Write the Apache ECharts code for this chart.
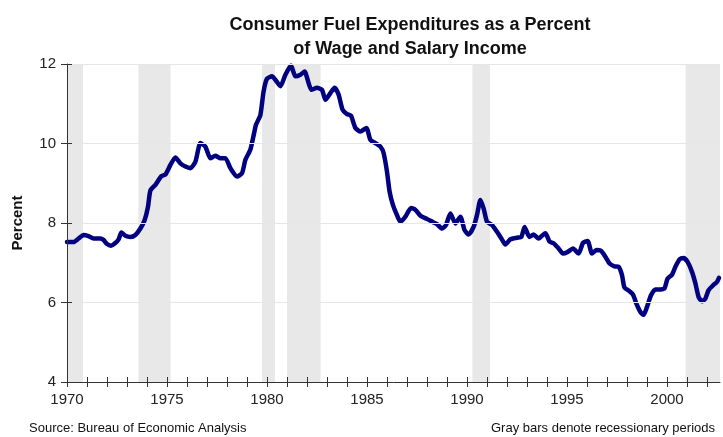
<!DOCTYPE html>
<html>
<head>
<meta charset="utf-8">
<script src="https://cdn.jsdelivr.net/npm/echarts@6/dist/echarts.min.js"></script>
<style>html,body{margin:0;padding:0;background:#fff}#c{width:723px;height:437px}</style>
</head>
<body>
<div id="c"></div>
<script>
// ---- data ----
var years = [1970.0,1970.33,1970.58,1970.83,1971.08,1971.33,1971.67,1971.83,1972.0,1972.2,1972.4,1972.58,1972.72,1972.92,1973.17,1973.42,1973.67,1973.88,1974.05,1974.17,1974.42,1974.72,1974.92,1975.17,1975.42,1975.67,1975.92,1976.17,1976.42,1976.67,1976.92,1977.17,1977.42,1977.67,1977.92,1978.17,1978.5,1978.75,1978.92,1979.17,1979.33,1979.45,1979.67,1979.83,1980.0,1980.25,1980.45,1980.67,1980.92,1981.2,1981.42,1981.67,1981.88,1982.08,1982.22,1982.5,1982.75,1982.92,1983.17,1983.38,1983.58,1983.78,1984.0,1984.2,1984.42,1984.67,1984.97,1985.17,1985.42,1985.67,1985.83,1986.0,1986.13,1986.3,1986.5,1986.67,1986.92,1987.2,1987.42,1987.67,1988.0,1988.3,1988.5,1988.75,1988.95,1989.17,1989.42,1989.67,1989.88,1990.08,1990.33,1990.5,1990.67,1990.83,1991.0,1991.25,1991.5,1991.72,1991.92,1992.17,1992.5,1992.72,1992.88,1993.12,1993.33,1993.58,1993.75,1993.92,1994.13,1994.33,1994.58,1994.8,1995.03,1995.3,1995.58,1995.8,1996.03,1996.25,1996.47,1996.7,1996.92,1997.13,1997.37,1997.58,1997.75,1997.87,1998.08,1998.3,1998.47,1998.67,1998.83,1999.0,1999.2,1999.42,1999.67,1999.87,2000.03,2000.25,2000.42,2000.63,2000.83,2001.03,2001.25,2001.42,2001.58,2001.75,2001.92,2002.08,2002.3,2002.5,2002.6];
var fuelPct = [7.52,7.52,7.61,7.70,7.67,7.61,7.61,7.57,7.47,7.43,7.49,7.59,7.76,7.68,7.65,7.70,7.86,8.07,8.41,8.82,8.96,9.18,9.22,9.46,9.65,9.50,9.42,9.38,9.54,10.01,9.92,9.63,9.69,9.63,9.63,9.38,9.17,9.25,9.59,9.85,10.20,10.47,10.72,11.31,11.63,11.69,11.58,11.44,11.73,11.96,11.69,11.73,11.81,11.52,11.35,11.40,11.35,11.10,11.27,11.40,11.23,10.85,10.74,10.70,10.39,10.30,10.39,10.09,10.01,9.92,9.76,9.29,8.79,8.45,8.20,8.03,8.16,8.38,8.33,8.18,8.10,8.02,7.97,7.86,7.95,8.24,7.99,8.16,7.82,7.71,7.90,8.20,8.58,8.37,8.03,7.95,7.78,7.61,7.46,7.59,7.63,7.65,7.90,7.65,7.71,7.61,7.68,7.74,7.53,7.49,7.36,7.23,7.27,7.36,7.23,7.50,7.55,7.23,7.32,7.30,7.15,6.98,6.91,6.90,6.69,6.38,6.30,6.20,5.97,5.76,5.69,5.89,6.18,6.33,6.33,6.35,6.60,6.70,6.90,7.09,7.12,7.02,6.77,6.48,6.14,6.03,6.10,6.31,6.43,6.52,6.62];
var recessionStart = [1970.0, 1973.57, 1979.75, 1981.0, 1990.27, 2000.93];
var recessionEnd   = [1970.8, 1975.18, 1980.4, 1982.68, 1991.15, 2002.65];
var tickYears = [];
for (var y = 1970; y <= 2002; y++) tickYears.push(y);
var labelYears = [1970, 1975, 1980, 1985, 1990, 1995, 2000];

var xMin = 1970, xMax = 2002.65;
var FONT = 'Liberation Sans, Arial, sans-serif';

var pts = years.map(function (yr, i) { return [yr, fuelPct[i]]; });
var areas = recessionStart.map(function (s, i) { return [{ xAxis: s }, { xAxis: recessionEnd[i] }]; });

var chart = echarts.init(document.getElementById('c'), null, { renderer: 'canvas' });
chart.setOption({
  animation: false,
  backgroundColor: '#ffffff',
  title: [
    { text: 'Consumer Fuel Expenditures as a Percent\nof Wage and Salary Income',
      left: 405, top: 8, textAlign: 'center',
      textStyle: { fontFamily: FONT, fontSize: 18, fontWeight: 'bold', color: '#111', lineHeight: 24 } },
    { text: 'Source: Bureau of Economic Analysis', left: 24, top: 417,
      textStyle: { fontFamily: FONT, fontSize: 13, fontWeight: 'normal', color: '#111' } },
    { text: 'Gray bars denote recessionary periods', right: 3, top: 417,
      textStyle: { fontFamily: FONT, fontSize: 13, fontWeight: 'normal', color: '#111' } }
  ],
  grid: { left: 67, right: 3, top: 64, bottom: 55, containLabel: false },
  xAxis: [
    { type: 'value', min: xMin, max: xMax, position: 'bottom', z: 10,
      axisLine: { show: true, lineStyle: { color: '#333', width: 1 } },
      axisTick: { show: true, inside: false, length: 5, customValues: tickYears, lineStyle: { color: '#333' } },
      axisLabel: { show: true, customValues: labelYears, margin: 10, fontFamily: FONT, fontSize: 15, color: '#222',
        formatter: function (v) { return String(v); } },
      splitLine: { show: false } },
    { type: 'value', min: xMin, max: xMax, position: 'bottom', z: 10,
      axisLine: { show: false },
      axisTick: { show: true, inside: true, length: 5, customValues: tickYears, lineStyle: { color: '#333' } },
      axisLabel: { show: false },
      splitLine: { show: false } }
  ],
  yAxis: [
    { type: 'value', min: 4, max: 12, interval: 2, position: 'left', z: 10,
      name: 'Percent', nameLocation: 'middle', nameGap: 42, nameRotate: 90,
      nameTextStyle: { fontFamily: FONT, fontSize: 15, fontWeight: 'bold', color: '#111' },
      axisLine: { show: true, lineStyle: { color: '#333', width: 1 } },
      axisTick: { show: true, inside: false, length: 6, lineStyle: { color: '#333' } },
      axisLabel: { margin: 11, fontFamily: FONT, fontSize: 15, color: '#222' },
      splitLine: { show: true, lineStyle: { color: '#e6e6e6', width: 1 } } },
    { type: 'value', min: 4, max: 12, interval: 2, position: 'left', z: 10,
      axisLine: { show: false },
      axisTick: { show: true, inside: true, length: 5, lineStyle: { color: '#333' } },
      axisLabel: { show: false },
      splitLine: { show: false } }
  ],
  series: [
    { type: 'line', xAxisIndex: 0, yAxisIndex: 0, data: pts, showSymbol: false, clip: false,
      smooth: 0.2,
      lineStyle: { color: '#000080', width: 4.5, join: 'round', cap: 'round' },
      z: 5,
      markArea: { silent: true, itemStyle: { color: '#e8e8e8' }, data: areas, z: 1 } }
  ]
});
</script>
</body>
</html>
